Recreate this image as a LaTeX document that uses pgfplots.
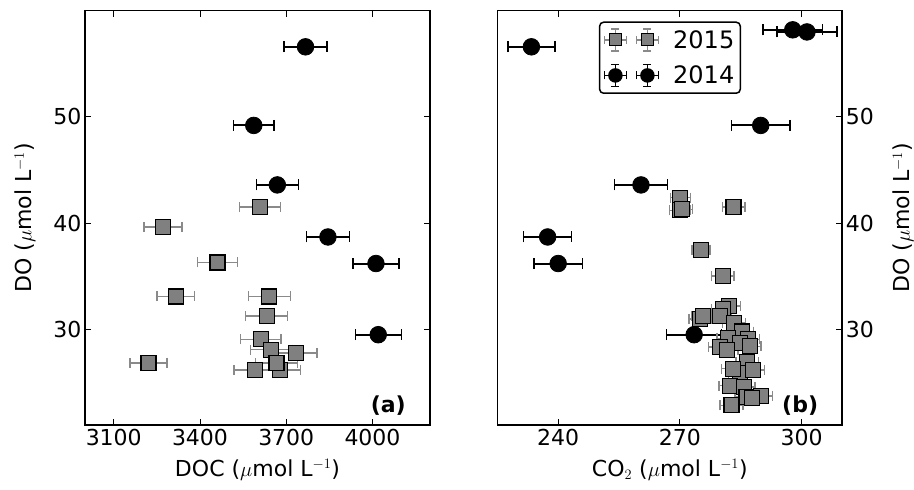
\documentclass[border=0pt]{standalone}
\usepackage{fontspec}
\setmainfont{DejaVu Sans}
\usepackage{pgfplots}
\pgfplotsset{compat=1.18}

\definecolor{sqfill}{HTML}{808080}
\definecolor{sqerr}{HTML}{8A8A8A}

\newcommand{\bigfont}{\fontsize{22}{26}\selectfont}

\pgfplotsset{
  panel/.style={
    scale only axis, width=345pt, height=414.3pt,
    ymin=21, ymax=60, ytick={30,40,50},
    tick align=inside, major tick length=6pt,
    every tick/.style={black, line width=0.9pt},
    axis line style={line width=1.6pt},
    tick label style={font=\bigfont},
    /pgf/number format/assume math mode=true,
    /pgf/number format/1000 sep={},
    scaled x ticks=false,
    xticklabel style={yshift=-1pt},
    every axis x label/.style={at={(axis description cs:0.5,0)}, yshift=-45pt, anchor=center, font=\bigfont},
  },
  p2014/.style={only marks, mark=*, mark size=8.3pt,
    mark options={fill=black, draw=black, line width=0.8pt}, black,
    error bars/.cd, x dir=both, x explicit, error mark=|,
    error bar style={line width=2pt, black},
    error mark options={mark size=5.5pt, line width=1.5pt, black}},
  p2015/.style={only marks, mark=square*, mark size=7.5pt,
    mark options={fill=sqfill, draw=black, line width=1.1pt}, sqerr,
    error bars/.cd, x dir=both, x explicit, error mark=|,
    error bar style={line width=1.6pt, sqerr},
    error mark options={mark size=5pt, line width=1.3pt, sqerr}},
}

\begin{document}
\begin{tikzpicture}
\path[use as bounding box] (-85pt,-65pt) rectangle (829pt,425pt);

% (a) DO vs DOC
\begin{axis}[panel, at={(0pt,0pt)}, anchor=south west,
  xmin=3000, xmax=4200, xtick={3100,3400,3700,4000},
  xlabel={DOC ($\mu$mol L$^{-1}$)},
  ylabel={DO ($\mu$mol L$^{-1}$)},
  every axis y label/.style={at={(axis description cs:0,0.5)}, xshift=-60pt, rotate=90, anchor=center, font=\bigfont},
]
\addplot+[p2014] coordinates {
  (3767,56.6) +- (75,0)
  (3587,49.2) +- (71,0)
  (3669,43.6) +- (73,0)
  (3845,38.7) +- (75,0)
  (4012,36.2) +- (80,0)
  (4020,29.5) +- (80,0)
};
\addplot+[p2015] coordinates {
  (3608,41.5) +- (71,0)
  (3271,39.65) +- (66,0)
  (3461,36.3) +- (69,0)
  (3316,33.1) +- (66,0)
  (3641,33.1) +- (73,0)
  (3632,31.25) +- (73,0)
  (3611,29.06) +- (71,0)
  (3733,27.8) +- (74,0)
  (3221,26.86) +- (64,0)
  (3590,26.2) +- (72,0)
  (3677,26.2) +- (73,0)
  (3648,28.1) +- (73,0)
  (3666,26.86) +- (73,0)
};
\node[font=\bfseries\bigfont, anchor=base east] at (rel axis cs:0.94,0.03) {(a)};
\end{axis}

% (b) DO vs CO2
\begin{axis}[panel, at={(412.3pt,0pt)}, anchor=south west,
  xmin=225, xmax=310, xtick={240,270,300},
  ytick pos=right, yticklabel pos=right,
  xlabel={CO$_2$ ($\mu$mol L$^{-1}$)},
  ylabel={DO ($\mu$mol L$^{-1}$)},
  every axis y label/.style={at={(axis description cs:1,0.5)}, xshift=61pt, rotate=90, anchor=center, font=\bigfont},
  legend style={at={(0.2944,0.974)}, anchor=north west, draw=black, line width=1.5pt,
    rounded corners=4pt, font=\fontsize{24}{28}\selectfont,
    inner xsep=4pt, inner ysep=6pt, row sep=12pt,
    /tikz/every odd column/.append style={column sep=12pt}},
  legend cell align=left,
]
\addplot+[forget plot, p2014] coordinates {
  (233.4,56.6) +- (5.8,0)
  (297.8,58.2) +- (7.3,0)
  (301.3,58.0) +- (7.4,0)
  (289.9,49.2) +- (7.25,0)
  (260.4,43.6) +- (6.5,0)
  (237.4,38.7) +- (5.9,0)
  (240.0,36.2) +- (6.0,0)
  (273.5,29.5) +- (6.8,0)
};
\addplot+[forget plot, p2015] coordinates {
  (270.1,42.4) +- (2.5,0)
  (270.0,41.2) +- (2.5,0)
  (270.6,41.3) +- (2.5,0)
  (283.2,41.5) +- (2.8,0)
  (275.2,37.5) +- (2.2,0)
  (280.5,35.0) +- (2.8,0)
  (282.1,32.2) +- (2.8,0)
  (280.6,31.9) +- (2.8,0)
  (275.0,31.0) +- (2.8,0)
  (275.7,31.25) +- (2.8,0)
  (279.8,31.25) +- (2.8,0)
  (283.3,30.6) +- (2.8,0)
  (285.3,29.8) +- (2.8,0)
  (286.8,29.06) +- (2.8,0)
  (281.9,29.15) +- (2.8,0)
  (284.8,28.7) +- (2.8,0)
  (287.2,28.4) +- (2.8,0)
  (279.8,28.35) +- (2.8,0)
  (281.5,28.1) +- (2.8,0)
  (286.6,26.9) +- (2.8,0)
  (284.8,25.9) +- (2.8,0)
  (283.1,26.3) +- (2.8,0)
  (288.0,26.2) +- (2.8,0)
  (282.4,24.7) +- (2.8,0)
  (285.7,24.6) +- (2.8,0)
  (286.4,23.65) +- (2.8,0)
  (290.0,23.75) +- (2.8,0)
  (287.7,23.5) +- (2.8,0)
  (282.7,22.85) +- (2.8,0)
};
\addlegendimage{legend image code/.code={
  \begin{scope}[sharp corners]
  \foreach \dx in {0pt,32pt}{
    \draw[sqerr, line width=1.4pt] ([xshift=\dx]-11pt,0)--([xshift=\dx]11pt,0)
      ([xshift=\dx]0,-11pt)--([xshift=\dx]0,11pt)
      ([xshift=\dx]-11pt,-4pt)--([xshift=\dx]-11pt,4pt)
      ([xshift=\dx]11pt,-4pt)--([xshift=\dx]11pt,4pt)
      ([xshift=\dx]-4pt,-11pt)--([xshift=\dx]4pt,-11pt)
      ([xshift=\dx]-4pt,11pt)--([xshift=\dx]4pt,11pt);
    \draw[black, fill=sqfill, line width=1.1pt] ([xshift=\dx]-6pt,-6pt) rectangle ([xshift=\dx]6pt,6pt);
  }
  \end{scope}}}
\addlegendentry{2015}
\addlegendimage{legend image code/.code={
  \begin{scope}[sharp corners]
  \foreach \dx in {0pt,32pt}{
    \draw[black, line width=1.6pt] ([xshift=\dx]-11pt,0)--([xshift=\dx]11pt,0)
      ([xshift=\dx]0,-11pt)--([xshift=\dx]0,11pt)
      ([xshift=\dx]-11pt,-4pt)--([xshift=\dx]-11pt,4pt)
      ([xshift=\dx]11pt,-4pt)--([xshift=\dx]11pt,4pt)
      ([xshift=\dx]-4pt,-11pt)--([xshift=\dx]4pt,-11pt)
      ([xshift=\dx]-4pt,11pt)--([xshift=\dx]4pt,11pt);
    \fill[black] ([xshift=\dx]0,0) circle (6.5pt);
  }
  \end{scope}}}
\addlegendentry{2014}
\node[font=\bfseries\bigfont, anchor=base east] at (rel axis cs:0.94,0.03) {(b)};
\end{axis}
\end{tikzpicture}
\end{document}
